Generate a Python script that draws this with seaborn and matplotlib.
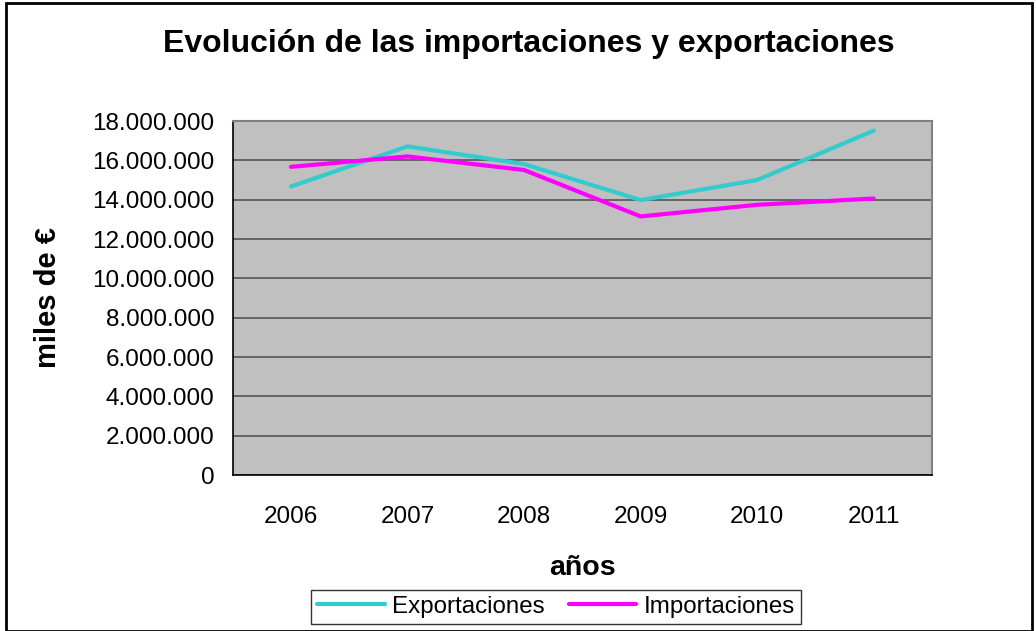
import matplotlib
matplotlib.use("Agg")
import matplotlib.pyplot as plt
import matplotlib.ticker as mticker
import pandas as pd
import seaborn as sns

# data (miles de €)
years = ["2006", "2007", "2008", "2009", "2010", "2011"]
exportaciones = [14670000, 16710000, 15810000, 13980000, 15000000, 17510000]
importaciones = [15670000, 16200000, 15510000, 13150000, 13740000, 14060000]
y_ticks = list(range(0, 18000001, 2000000))

df = pd.DataFrame({
    "pos": list(range(len(years))) * 2,
    "valor": exportaciones + importaciones,
    "serie": ["Exportaciones"] * len(years) + ["Importaciones"] * len(years),
})

sns.set_style("white")
plt.rcParams["font.family"] = ["Liberation Sans", "DejaVu Sans"]
plt.rcParams["text.color"] = "black"
plt.rcParams["axes.labelcolor"] = "black"
plt.rcParams["xtick.color"] = "black"
plt.rcParams["ytick.color"] = "black"

fig = plt.figure(figsize=(10.36, 6.31), dpi=100)
ax = fig.add_axes([0.2246, 0.2472, 0.6750, 0.5610])
ax.set_facecolor("#C0C0C0")

sns.lineplot(data=df, x="pos", y="valor", hue="serie",
             palette={"Exportaciones": "#33CCCC", "Importaciones": "#FF00FF"},
             linewidth=3, ax=ax, legend=False, zorder=3)

ax.set_ylim(0, 18000000)
ax.set_xlim(-0.5, len(years) - 0.5)
ax.set_yticks(y_ticks)
ax.yaxis.set_major_formatter(mticker.FuncFormatter(lambda v, p: f"{int(v):,}".replace(",", ".")))
ax.grid(axis="y", color="#555555", linewidth=1.2, zorder=1)
ax.set_axisbelow(True)

# x ticks on boundaries, labels centred on categories
ax.set_xticks([i - 0.5 for i in range(len(years) + 1)])
ax.set_xticklabels([])
ax.set_xticks(range(len(years)), minor=True)
ax.set_xticklabels(years, minor=True)
ax.tick_params(axis="x", which="major", length=8, width=1, direction="out")
ax.tick_params(axis="x", which="minor", length=0, pad=22, labelsize=17.5)
ax.tick_params(axis="y", length=8, width=1, direction="out", labelsize=17.5, pad=5)

for side in ["left", "bottom"]:
    ax.spines[side].set_color("black")
    ax.spines[side].set_linewidth(1.2)
for side in ["top", "right"]:
    ax.spines[side].set_color("#808080")
    ax.spines[side].set_linewidth(1.5)

ax.set_xlabel("años", fontsize=20.5, fontweight="bold", labelpad=20)
ax.set_ylabel("miles de €", fontsize=21, fontweight="bold", labelpad=22)

fig.text(0.51, 0.93, "Evolución de las importaciones y exportaciones",
         ha="center", va="center", fontsize=23, fontweight="bold")

handles = [plt.Line2D([], [], color="#33CCCC", linewidth=3),
           plt.Line2D([], [], color="#FF00FF", linewidth=3)]
leg = fig.legend(handles, ["Exportaciones", "Importaciones"], loc="center",
                 bbox_to_anchor=(0.5365, 0.0385), ncol=2, fontsize=17.4, frameon=True,
                 fancybox=False, edgecolor="black", handlelength=2.8,
                 handletextpad=0.3, columnspacing=1.0, borderpad=0.25)
leg.get_frame().set_linewidth(1.0)

# outer chart border
fig.patches.append(plt.Rectangle((0.006, 0.0), 0.99, 0.995, transform=fig.transFigure,
                                 fill=False, edgecolor="black", linewidth=2))

fig.savefig("out.png", dpi=100)
